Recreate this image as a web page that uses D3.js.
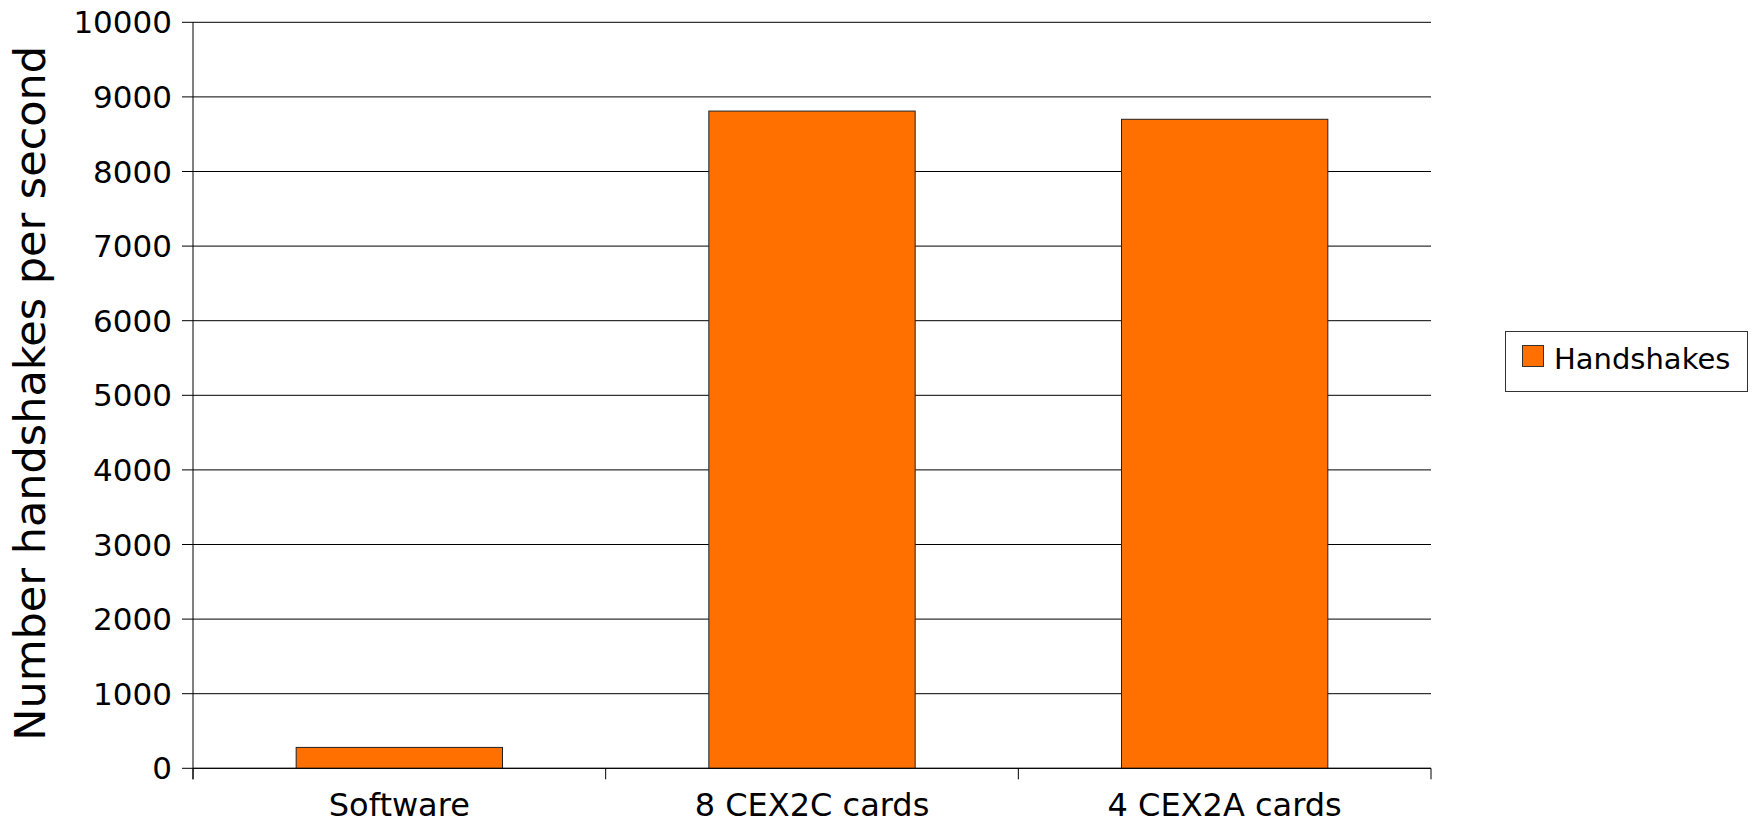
<!DOCTYPE html>
<html><head><meta charset="utf-8">
<script src="https://cdn.jsdelivr.net/npm/d3@7"></script>
<style>html,body{margin:0;padding:0;background:#fff;}svg{display:block;font-family:"DejaVu Sans",sans-serif;}</style>
</head><body>
<svg id="c" width="1752" height="823"></svg>
<script>
const categories = ["Software", "8 CEX2C cards", "4 CEX2A cards"];
const handshakes = [280, 8810, 8700];
const yTicks = [0,1000,2000,3000,4000,5000,6000,7000,8000,9000,10000];
const seriesName = "Handshakes";
const yTitle = "Number handshakes per second";

const svg = d3.select("#c");
const L = 193, R = 1431, T = 22.3, B = 768.3;
const x = d3.scaleBand().domain(categories).range([L, R]).paddingInner(0.5).paddingOuter(0.25);
const y = d3.scaleLinear().domain([0, 10000]).range([B, T]);
const color = "#ff7000";

// gridlines
svg.append("g").selectAll("line").data(yTicks).join("line")
  .attr("x1", L - 11).attr("x2", R).attr("y1", d => y(d)).attr("y2", d => y(d))
  .attr("stroke", "#000").attr("stroke-width", 1);

// y tick labels
svg.append("g").selectAll("text").data(yTicks).join("text")
  .attr("x", 172).attr("y", d => y(d) + 11).attr("text-anchor", "end")
  .attr("font-size", 31).attr("fill", "#000").text(d => d);

// bars
svg.append("g").selectAll("rect").data(categories).join("rect")
  .attr("x", d => x(d)).attr("width", x.bandwidth())
  .attr("y", (d, i) => y(handshakes[i])).attr("height", (d, i) => B - y(handshakes[i]))
  .attr("fill", color).attr("stroke", "#222").attr("stroke-width", 1);

// y axis line
svg.append("line").attr("x1", L).attr("x2", L).attr("y1", T).attr("y2", B + 11)
  .attr("stroke", "#000").attr("stroke-width", 1);
// x axis line
svg.append("line").attr("x1", L).attr("x2", R).attr("y1", B).attr("y2", B)
  .attr("stroke", "#000").attr("stroke-width", 1);
// x ticks at band boundaries
const step = (R - L) / categories.length;
const bounds = d3.range(categories.length + 1).map(i => L + i * step);
svg.append("g").selectAll("line").data(bounds).join("line")
  .attr("x1", d => d).attr("x2", d => d).attr("y1", B).attr("y2", B + 11)
  .attr("stroke", "#000").attr("stroke-width", 1);

// category labels
svg.append("g").selectAll("text").data(categories).join("text")
  .attr("x", d => x(d) + x.bandwidth() / 2).attr("y", 816).attr("text-anchor", "middle")
  .attr("font-size", 32).attr("fill", "#000").text(d => d);

// y title
svg.append("text").attr("transform", `translate(45,${(T + B) / 2 - 2}) rotate(-90)`)
  .attr("text-anchor", "middle").attr("font-size", 43).attr("fill", "#000").text(yTitle);

// legend
const lg = svg.append("g");
lg.append("rect").attr("x", 1505.5).attr("y", 331.5).attr("width", 242).attr("height", 60)
  .attr("fill", "#fff").attr("stroke", "#333").attr("stroke-width", 1);
lg.append("rect").attr("x", 1522.5).attr("y", 345.5).attr("width", 21).attr("height", 21)
  .attr("fill", color).attr("stroke", "#333").attr("stroke-width", 1);
lg.append("text").attr("x", 1554).attr("y", 369).attr("font-size", 29).attr("fill", "#000").text(seriesName);
</script>
</body></html>
